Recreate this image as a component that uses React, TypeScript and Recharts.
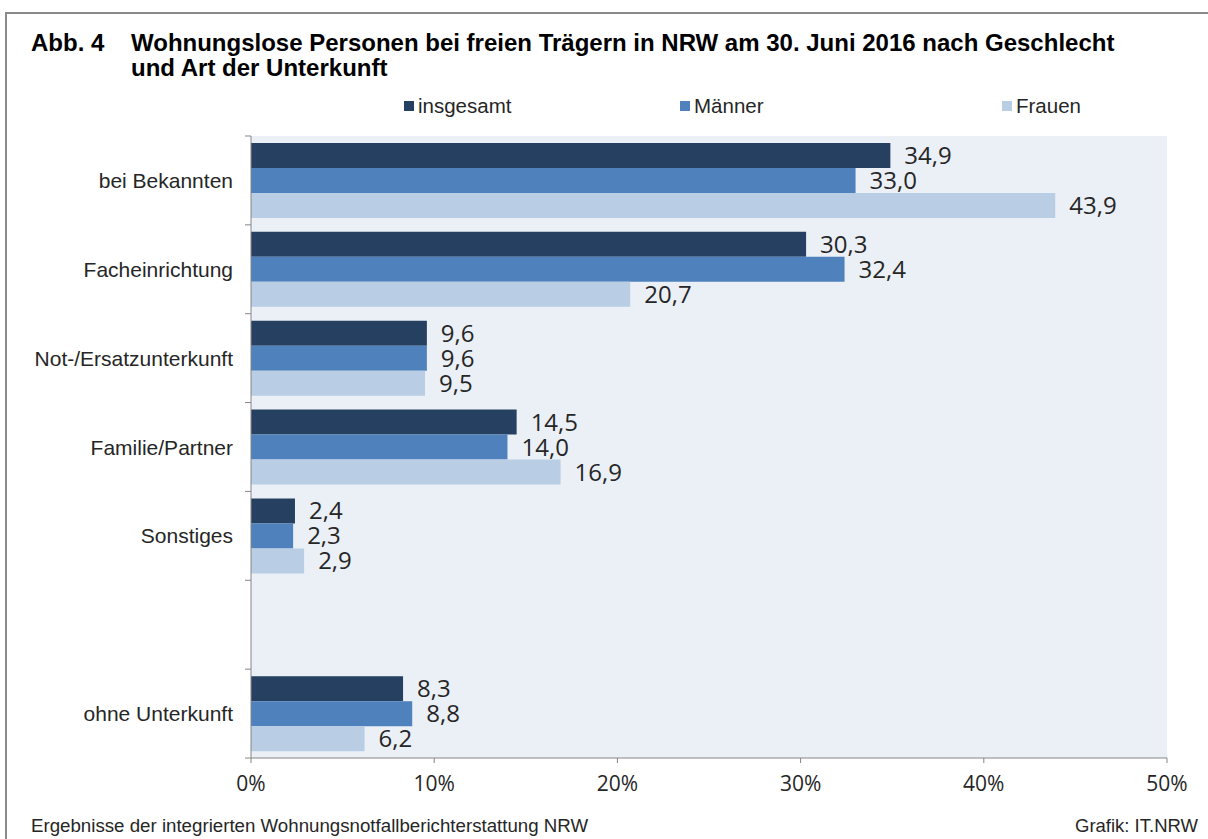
import React from 'react';
import { BarChart, Bar, XAxis, YAxis, CartesianGrid, LabelList, Legend } from 'recharts';

const categories = ['bei Bekannten', 'Facheinrichtung', 'Not-/Ersatzunterkunft', 'Familie/Partner', 'Sonstiges', '', 'ohne Unterkunft'];
const insgesamt = [34.9, 30.3, 9.6, 14.5, 2.4, null, 8.3];
const maenner = [33.0, 32.4, 9.6, 14.0, 2.3, null, 8.8];
const frauen = [43.9, 20.7, 9.5, 16.9, 2.9, null, 6.2];
const xTicks = [0, 10, 20, 30, 40, 50];
const seriesKeys = ['insgesamt', 'maenner', 'frauen'];
const seriesNames = ['insgesamt', 'Männer', 'Frauen'];
const seriesColors = ['#254061', '#4F81BD', '#B9CDE5'];

const data = categories.map((name, i) => ({
  name,
  insgesamt: insgesamt[i],
  maenner: maenner[i],
  frauen: frauen[i],
}));

const W = 1208;
const H = 839;
const PLOT_LEFT = 251;
const PLOT_RIGHT = 1167;
const PLOT_TOP = 136;
const PLOT_BOTTOM = 758;
const X_AXIS_H = 30;
const Y_AXIS_W = 200;
const BAND = (PLOT_BOTTOM - PLOT_TOP) / categories.length;

const ARIAL = "'Liberation Sans', Arial, sans-serif";
const OPEN = "'Open Sans', sans-serif";
const AXIS_COLOR = '#868686';

const fmt = (v: any) => (v === null || v === undefined ? '' : Number(v).toFixed(1).replace('.', ','));

const YTick = (props: any) => {
  const { y, payload, index } = props;
  return (
    <g>
      <line x1={PLOT_LEFT - 6} x2={PLOT_LEFT} y1={y - BAND / 2} y2={y - BAND / 2} stroke={AXIS_COLOR} strokeWidth={1} />
      {index === categories.length - 1 && (
        <line x1={PLOT_LEFT - 6} x2={PLOT_LEFT} y1={y + BAND / 2} y2={y + BAND / 2} stroke={AXIS_COLOR} strokeWidth={1} />
      )}
      <text x={233} y={y} dy="0.36em" textAnchor="end" fontFamily={ARIAL} fontSize={21} fill="#262626">
        {payload.value}
      </text>
    </g>
  );
};

const legendX = [404, 680, 1002];

const LegendContent = () => (
  <div style={{ position: 'relative', width: W, height: 0 }}>
    {seriesNames.map((n, i) => (
      <React.Fragment key={n}>
        <div style={{ position: 'absolute', left: legendX[i], top: 101, width: 10, height: 10, background: seriesColors[i] }} />
        <div style={{ position: 'absolute', left: legendX[i] + 14, top: 94, fontFamily: ARIAL, fontSize: 20.5, lineHeight: '24px', color: '#262626', whiteSpace: 'nowrap' }}>{n}</div>
      </React.Fragment>
    ))}
  </div>
);

const titleStyle: React.CSSProperties = {
  position: 'absolute',
  top: 30,
  fontFamily: ARIAL,
  fontWeight: 'bold',
  fontSize: 24,
  lineHeight: '25px',
  color: '#000',
  whiteSpace: 'nowrap',
};

export default function App() {
  return (
    <div style={{ position: 'absolute', left: 0, top: 0, width: W, height: H, background: '#fff', overflow: 'hidden' }}>
      <div style={{ position: 'absolute', left: 5, top: 12, width: 1300, height: 900, border: '2px solid #8a8a8a' }} />
      <div style={{ ...titleStyle, left: 31 }}>Abb. 4</div>
      <div style={{ ...titleStyle, left: 131 }}>
        Wohnungslose Personen bei freien Trägern in NRW am 30. Juni 2016 nach Geschlecht
        <br />
        und Art der Unterkunft
      </div>
      <div style={{ position: 'absolute', left: 0, top: 0 }}>
        <BarChart
          width={W}
          height={H}
          data={data}
          layout="vertical"
          margin={{ top: PLOT_TOP, right: W - PLOT_RIGHT, bottom: H - PLOT_BOTTOM - X_AXIS_H, left: PLOT_LEFT - Y_AXIS_W }}
          barCategoryGap={7}
          barGap={0}
        >
          <CartesianGrid fill="#EBF0F7" horizontal={false} vertical={false} />
          <XAxis
            type="number"
            domain={[0, 50]}
            ticks={xTicks}
            interval={0}
            height={X_AXIS_H}
            tickFormatter={(v: number) => `${v}%`}
            stroke={AXIS_COLOR}
            tickSize={5}
            tickMargin={13}
            tick={{ fontFamily: OPEN, fontSize: 21, fill: '#262626' }}
          />
          <YAxis
            type="category"
            dataKey="name"
            width={Y_AXIS_W}
            interval={0}
            tickLine={false}
            stroke={AXIS_COLOR}
            tick={<YTick />}
          />
          <Legend verticalAlign="middle" align="center" layout="horizontal" wrapperStyle={{ top: 0, left: 0, width: W, height: 0 }} content={<LegendContent />} />
          {seriesKeys.map((k, i) => (
            <Bar key={k} dataKey={k} name={seriesNames[i]} fill={seriesColors[i]} isAnimationActive={false}>
              <LabelList dataKey={k} position="right" offset={14} formatter={fmt} style={{ fontFamily: OPEN, fontSize: 24, fill: '#262626' }} />
            </Bar>
          ))}
        </BarChart>
      </div>
      <div style={{ position: 'absolute', left: 31, top: 815, fontFamily: ARIAL, fontSize: 18.7, lineHeight: '21px', color: '#262626', whiteSpace: 'nowrap' }}>
        Ergebnisse der integrierten Wohnungsnotfallberichterstattung NRW
      </div>
      <div style={{ position: 'absolute', right: 10, top: 815, fontFamily: ARIAL, fontSize: 18.5, lineHeight: '21px', color: '#262626', whiteSpace: 'nowrap' }}>
        Grafik: IT.NRW
      </div>
    </div>
  );
}
